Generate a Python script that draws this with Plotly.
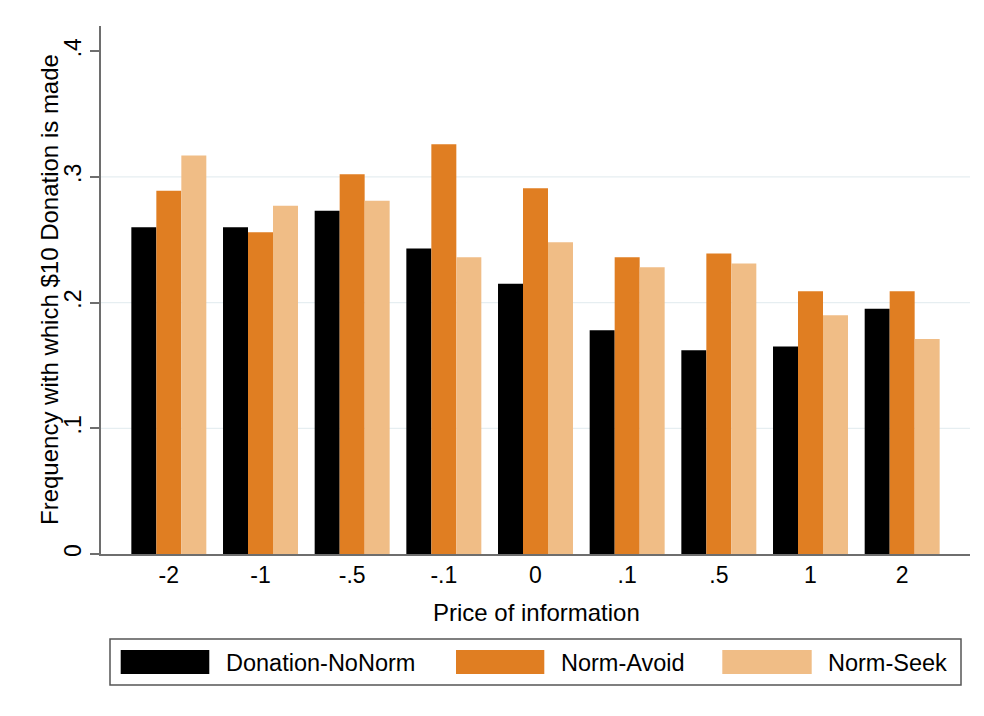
import plotly.graph_objects as go

# ---- data ----
categories = ["-2", "-1", "-.5", "-.1", "0", ".1", ".5", "1", "2"]
series_names = ["Donation-NoNorm", "Norm-Avoid", "Norm-Seek"]
donation_nonorm = [0.260, 0.260, 0.273, 0.243, 0.215, 0.178, 0.162, 0.165, 0.195]
norm_avoid = [0.289, 0.256, 0.302, 0.326, 0.291, 0.236, 0.239, 0.209, 0.209]
norm_seek = [0.317, 0.277, 0.281, 0.236, 0.248, 0.228, 0.231, 0.190, 0.171]
y_ticks = [0, 0.1, 0.2, 0.3, 0.4]
y_tick_labels = ["0", ".1", ".2", ".3", ".4"]
grid_values = [0.1, 0.2, 0.3]

colors = ["#000000", "#e07e22", "#f0bd86"]
FONT = "Liberation Sans, Arial, Helvetica, sans-serif"

OFF = 8  # page body margin
W, H = 984 - 2 * OFF, 716 - 2 * OFF
# plot area in screen pixels
SX0, SX1, SY0, SY1 = 101, 970, 26, 554
L, T = SX0 - OFF, SY0 - OFF
R, B = W - (SX1 - OFF), H - (SY1 - OFF)
PW, PH = W - L - R, H - T - B


def px(x):
    return (x - OFF - L) / PW


def py(y):
    return (H - B - (y - OFF)) / PH


fig = go.Figure()
xs = list(range(len(categories)))
for name, vals, col in zip(series_names, [donation_nonorm, norm_avoid, norm_seek], colors):
    fig.add_trace(go.Bar(x=xs, y=vals, name=name, marker=dict(color=col, line=dict(width=0)),
                         showlegend=False))

shapes = []
for g in grid_values:
    shapes.append(dict(type="line", xref="paper", yref="y", x0=0, x1=1, y0=g, y1=g,
                       line=dict(color="#e6eef1", width=1.2), layer="below"))

# manual legend
shapes.append(dict(type="rect", xref="paper", yref="paper", x0=px(110), x1=px(961),
                   y0=py(685), y1=py(639), line=dict(color="#555555", width=1.5),
                   fillcolor="white"))
annotations = []
sw = [(120.7, 209.3, 224), (456, 544.3, 559), (722.3, 811.7, 825.7)]
for (x0, x1, tx), col, name in zip(sw, colors, series_names):
    shapes.append(dict(type="rect", xref="paper", yref="paper", x0=px(x0), x1=px(x1),
                       y0=py(674), y1=py(650), line=dict(width=0), fillcolor=col))
    annotations.append(dict(text=name, xref="paper", yref="paper", x=px(tx), y=py(663),
                            xanchor="left", yanchor="middle", showarrow=False,
                            font=dict(size=23.5, color="#000000", family=FONT)))

annotations.append(dict(text="Price of information", xref="paper", yref="paper",
                        x=px(536), y=py(612), xanchor="center", yanchor="middle",
                        showarrow=False, font=dict(size=24, color="#000000", family=FONT)))
annotations.append(dict(text="Frequency with which $10 Donation is made", xref="paper",
                        yref="paper", x=px(49), y=py(290), xanchor="center",
                        yanchor="middle", textangle=-90, showarrow=False,
                        font=dict(size=24, color="#000000", family=FONT)))

fig.update_layout(
    width=W, height=H,
    margin=dict(l=L, r=R, t=T, b=B),
    paper_bgcolor="white", plot_bgcolor="white",
    barmode="group", bargap=0.182, bargroupgap=0,
    shapes=shapes, annotations=annotations,
    font=dict(family=FONT, color="#000000"),
    xaxis=dict(range=[-0.74, 8.74], tickvals=xs, ticktext=categories, showgrid=False,
               zeroline=False, showline=True, linecolor="#6e6e6e", linewidth=1.5,
               ticks="", tickfont=dict(size=23, color="#000000", family=FONT),
               fixedrange=True),
    yaxis=dict(range=[0, 0.42], tickvals=y_ticks, ticktext=y_tick_labels, showgrid=False,
               zeroline=False, showline=True, linecolor="#6e6e6e", linewidth=1.5,
               ticks="outside", ticklen=9, tickwidth=1.5, tickcolor="#6e6e6e",
               tickangle=-90, ticklabelstandoff=0,
               tickfont=dict(size=23, color="#000000", family=FONT),
               fixedrange=True),
)

fig.write_html("out.html")
